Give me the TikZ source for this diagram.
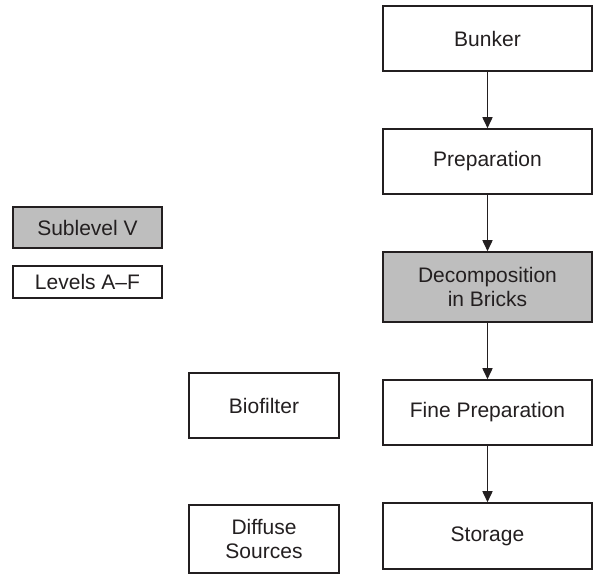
\documentclass[tikz,border=0pt]{standalone}
\usepackage{fontspec}
\setmainfont{Liberation Sans}
\usetikzlibrary{arrows.meta}
\definecolor{ink}{HTML}{231F20}
\definecolor{shade}{HTML}{BEBEBE}
\begin{document}
\begin{tikzpicture}[x=1pt,y=-1pt,
  box/.style={draw=ink, line width=1.5pt, fill=white, text=ink, inner sep=0pt,
    align=center, font=\fontsize{21}{24.5}\selectfont},
  grey/.style={fill=shade},
  flow/.style={draw=ink, line width=1.5pt, -{Triangle[length=11pt,width=10pt]}}]
\useasboundingbox (0,0) rectangle (598,577);
% main process chain
\node[box, minimum width=209pt, minimum height=65pt] (bunker) at (487.5,38.5) {Bunker};
\node[box, minimum width=209pt, minimum height=65pt] (prep) at (487.5,161.5) {Preparation};
\node[box, grey, minimum width=209pt, minimum height=70pt] (decomp) at (487.5,287) {Decomposition\\in Bricks};
\node[box, minimum width=209pt, minimum height=65pt] (fine) at (487.5,412.5) {Fine Preparation};
\node[box, minimum width=209pt, minimum height=66pt] (storage) at (487.5,536) {Storage};
% side boxes
\node[box, minimum width=150pt, minimum height=65pt] (bio) at (264,405.5) {Biofilter};
\node[box, minimum width=150pt, minimum height=68pt] (diffuse) at (264,539) {Diffuse\\Sources};
% legend
\node[box, grey, minimum width=149pt, minimum height=41pt] (sub) at (87.5,227.5) {Sublevel V};
\node[box, minimum width=149pt, minimum height=32pt] (lev) at (87.5,282) {Levels A–F};
% connectors
\draw[flow] (bunker) -- (prep);
\draw[flow] (prep) -- (decomp);
\draw[flow] (decomp) -- (fine);
\draw[flow] (fine) -- (storage);
\end{tikzpicture}
\end{document}
